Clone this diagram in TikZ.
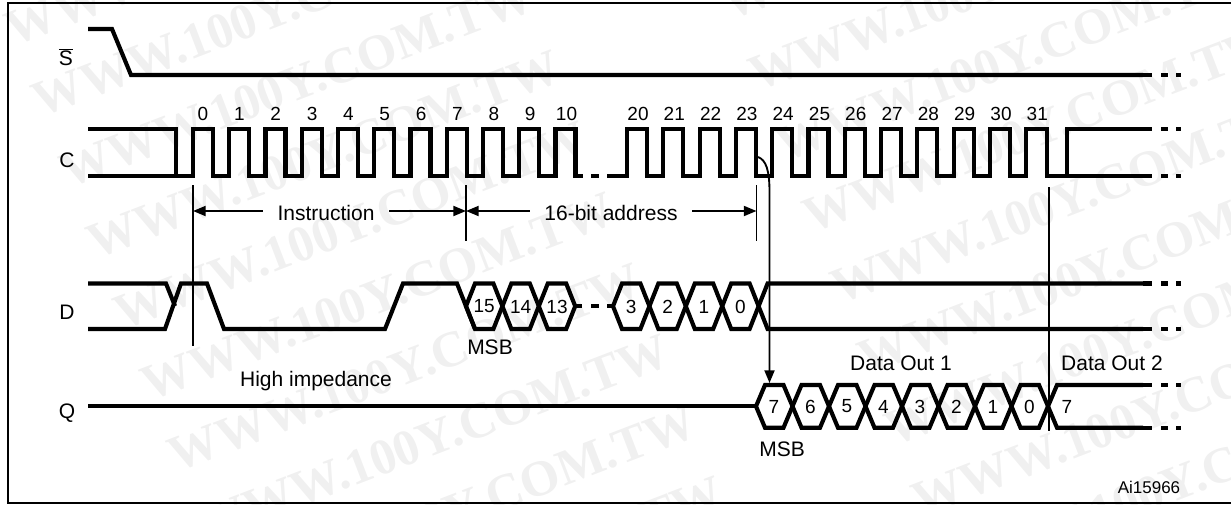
\documentclass[tikz,border=0pt]{standalone}
\usepackage{fontspec}
\setmainfont{Liberation Sans}
\newfontfamily\markfont{Liberation Serif}
\usetikzlibrary{arrows.meta}

\begin{document}
\begin{tikzpicture}[x=0.75pt, y=-0.75pt]
    \tikzset{>={Triangle[length=9.5pt, width=7.5pt]}}
    \tikzstyle{wave}  = [line width = 3.1pt, miter limit = 10]
    \tikzstyle{tail}  = [line width = 3.1pt, dash pattern = on 6.75pt off 6.75pt on 5.25pt off 6pt on 3.75pt]
    \tikzstyle{guide} = [line width = 1.4pt]
    \tikzstyle{arrow} = [line width = 1.4pt, ->]
    \tikzstyle{sig}   = [font = \fontsize{15.75}{18}\selectfont, inner sep = 0pt]
    \tikzstyle{num}   = [font = \fontsize{14.25}{17}\selectfont, inner sep = 0pt]
    \tikzstyle{span}  = [sig, inner xsep = 11pt]
    \tikzstyle{wmark} = [font = \markfont\bfseries\fontsize{38}{42}\selectfont, text = black!6, rotate = 21, inner sep = 0pt]

    \useasboundingbox (0,0) rectangle (1231,504);

    % Watermark
    \foreach \cx/\cy/\last/\col in {242/-58.5/9/a, 958.5/-84.5/8/b}
      \foreach \k in {0,...,\last}
        \node[wmark] (wmark\col\k) at ({\cx+27.2*\k},{\cy+71*\k}) {WWW.100Y.COM.TW};

    % Frame
    \draw[line width = 1.5pt] (1231,3) -- (7.5,3) -- (7.5,503) -- (1231,503);

    \node[sig] (S) at (66,57) {$\overline{\mbox{S}}$};
    \node[sig] (C) at (67,160) {C};
    \node[sig] (D) at (67,312) {D};
    \node[sig] (Q) at (67,413) {Q};

    % S and C
    \draw[wave] (88,29) -- (112,29) -- (131,75) -- (1143,75);
    \draw[wave] (88,176) -- (176,176);
    \draw[wave] (88,129) -- (176,129) -- (176,176) -- (193,176)
      \foreach \i in {0,...,9} { -- ++(0,-47) -- ++(20,0) -- ++(0,47) -- ++(16.25,0) }
      -- ++(0,-47) -- ++(20,0) -- ++(0,47) -- ++(7,0);
    \draw[wave] (591,176) -- (599,176);
    \draw[wave] (607,176) -- (627,176)
      \foreach \i in {0,...,10} { -- ++(0,-47) -- ++(20,0) -- ++(0,47) -- ++(16.3,0) }
      -- ++(0,-47) -- ++(20.5,0) -- ++(0,47) -- (1067,176) -- (1067,129) -- (1143,129);
    \draw[wave] (1067,176) -- (1143,176);

    \foreach \t [count=\i from 0] in {0,1,...,10}
      \node[num] (tick\t) at ({203+36.35*\i},114) {\t};
    \foreach \t [count=\i from 0] in {20,21,...,31}
      \node[num] (tick\t) at ({638+36.3*\i},114) {\t};

    % D
    \draw[wave] (88,283.5) -- (166,283.5) -- (175,306);
    \draw[wave] (88,329) -- (165,329) -- (181,283.5) -- (207,283.5) -- (224,329) -- (385,329) -- (403,283.5) -- (457,283.5) -- (475,329);
    \foreach \x/\t in {466/15, 502.4/14, 538.8/13, 613/3, 649.4/2, 685.8/1, 722.2/0} {
      \draw[wave] (\x,306.2) -- ++(9,-22.7) -- ++(18.4,0) -- ++(9,22.7) -- ++(-9,22.8) -- ++(-18.4,0) -- cycle;
      \node[num] (din\t) at ({\x+18.2},306.5) {\t};
    }
    \draw[wave] (576,306) -- (582,306);
    \draw[wave] (591,306) -- (599,306);
    \draw[wave] (607,306) -- (613,306);
    \draw[wave] (1143,283.5) -- (767.6,283.5) -- (758.6,306.2) -- (767.6,329) -- (1143,329);

    % Q
    \draw[wave] (88,406.3) -- (756,406.3);
    \foreach \t [count=\i from 0] in {7,6,5,4,3,2,1,0} {
      \draw[wave] ({756+36.5*\i},406.3) -- ++(9,-21.3) -- ++(18.5,0) -- ++(9,21.3) -- ++(-9,21.4) -- ++(-18.5,0) -- cycle;
      \node[num] (qout\i) at ({774+36.5*\i},406.5) {\t};
    }
    \node[num] (qnext) at (1067,406.5) {7};
    \draw[wave] (1143,385) -- (1057,385) -- (1048,406.3) -- (1057,427.7) -- (1143,427.7);

    \draw[tail] (1143,75) -- (1181,75);
    \draw[tail] (1143,129) -- (1181,129);
    \draw[tail] (1143,176) -- (1181,176);
    \draw[tail] (1143,283.5) -- (1181,283.5);
    \draw[tail] (1143,329) -- (1181,329);
    \draw[tail] (1143,385) -- (1181,385);
    \draw[tail] (1143,427.7) -- (1181,427.7);

    % Guide lines
    \coordinate (gA) at (193,185);
    \coordinate (gAe) at (193,346);
    \coordinate (gB) at (466,185);
    \coordinate (gBe) at (466,241);
    \coordinate (gC) at (756.5,185);
    \coordinate (gCe) at (756.5,241);
    \coordinate (gD) at (1048.7,187);
    \coordinate (gDe) at (1048.7,431);
    \draw[guide] (gA) -- (gAe);
    \draw[guide] (gB) -- (gBe);
    \draw[guide] (gC) -- (gCe);
    \draw[guide] (gD) -- (gDe);

    \coordinate (mA) at (193,211);
    \coordinate (mB) at (466,211);
    \coordinate (mC) at (756.5,211);
    \node[span] (instr) at (326,213) {Instruction};
    \node[span] (addr) at (611,213) {16-bit address};
    \draw[arrow] (instr.west |- mA) -- (mA);
    \draw[arrow] (instr.east |- mA) -- (mB);
    \draw[arrow] (addr.west |- mA) -- (mB);
    \draw[arrow] (addr.east |- mA) -- (mC);

    % Clock edge to first output bit
    \coordinate (edge) at (758,157);
    \coordinate (msbq) at (769.5,383);
    \draw[arrow] (edge) .. controls (766,160) and (769.5,170) .. (769.5,192) -- (msbq);

    \node[sig] (msbd) at (490,347) {MSB};
    \node[sig] (msbo) at (782,449) {MSB};
    \node[sig] (hiz) at (316,381) {High impedance};
    \node[sig] (out1) at (901,363) {Data Out 1};
    \node[sig] (out2) at (1112,363) {Data Out 2};
    \node[font = \fontsize{12.75}{15}\selectfont, inner sep = 0pt] (ref) at (1149,487) {Ai15966};
\end{tikzpicture}
\end{document}
